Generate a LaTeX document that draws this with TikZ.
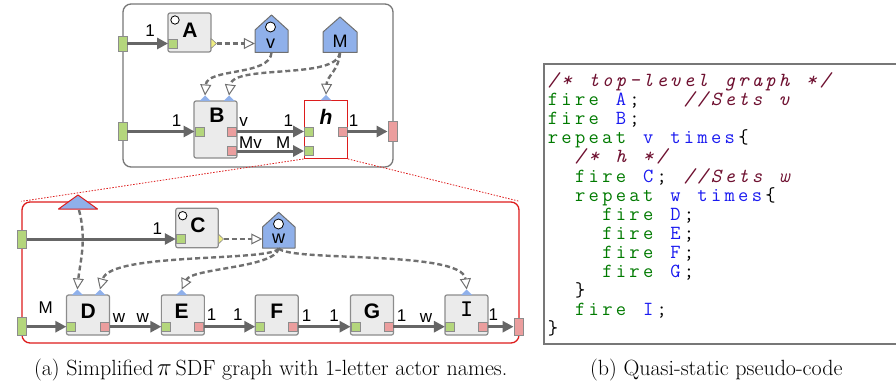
\documentclass[tikz,border=0pt]{standalone}
\usepackage{fontspec}
\newfontfamily\sansf{Liberation Sans}
\usetikzlibrary{arrows.meta,calc}
\definecolor{edgegray}{HTML}{666666}
\definecolor{depgray}{HTML}{707070}
\definecolor{bordergray}{HTML}{8C8C8C}
\definecolor{boxgray}{HTML}{777777}
\definecolor{actfill}{HTML}{EBEBEB}
\definecolor{portgreen}{HTML}{B4D67C}
\definecolor{portpink}{HTML}{EB9E9E}
\definecolor{parblue}{HTML}{8FB0EA}
\definecolor{porty}{HTML}{F0EE80}
\definecolor{hred}{HTML}{DD1C1C}
\definecolor{codegreen}{HTML}{007A00}
\definecolor{codeblue}{HTML}{1A1AF0}
\definecolor{codered}{HTML}{6E1030}
\newlength\colw \setlength\colw{13.6pt}
\ExplSyntaxOn
\NewDocumentCommand\fcols{m}{\tl_map_inline:nn{#1}{\makebox[\colw][c]{##1}}}
\ExplSyntaxOff
\newcommand\ckw[1]{{\color{codegreen}#1}}
\newcommand\cid[1]{{\color{codeblue}#1}}
\newcommand\ccm[1]{{\color{codered}\itshape #1}}
\tikzset{
  actor/.style={draw=bordergray, fill=actfill, line width=1.2pt, rounded corners=2pt, inner sep=0pt, minimum width=43pt, minimum height=40pt},
  hactor/.style={draw=hred, fill=white, line width=1.3pt, inner sep=0pt, minimum width=43pt, minimum height=58pt},
  gport/.style={draw=bordergray, fill=portgreen, line width=0.9pt, inner sep=0pt, minimum width=9pt, minimum height=9pt},
  rport/.style={draw=bordergray, fill=portpink, line width=0.9pt, inner sep=0pt, minimum width=9pt, minimum height=9pt},
  ioport/.style={draw=bordergray, line width=0.9pt, inner sep=0pt, minimum width=9pt, minimum height=18pt},
  flow/.style={draw=edgegray, line width=3pt, -{Triangle[length=11pt,width=11pt]}},
  dep/.style={draw=depgray, line width=2.4pt, dash pattern=on 5pt off 3pt, -{Triangle[length=11pt,width=11pt,fill=white,line width=1pt]}},
  param/.style={draw=depgray, fill=parblue, line width=1pt, line join=round},
  cfgtri/.style={fill=parblue, draw=none},
  yeltri/.style={fill=porty, draw=bordergray, line width=0.6pt},
  ring/.style={draw=black, fill=white, line width=0.8pt},
  elab/.style={font=\sansf\fontsize{17}{17}\selectfont, inner sep=0pt},
  alab/.style={font=\sansf\bfseries\fontsize{21}{21}\selectfont, inner sep=0pt},
  plab/.style={font=\sansf\fontsize{18}{18}\selectfont, inner sep=0pt},
  zoomline/.style={draw=hred, line width=0.8pt, dash pattern=on 1.5pt off 1.5pt},
  codeline/.style={anchor=base west, inner sep=0pt, font=\ttfamily\fontsize{20}{20}\selectfont\addfontfeatures{FakeBold=0.6}},
  codebox/.style={draw=boxgray, line width=1.5pt},
  captext/.style={anchor=base, inner sep=0pt, font=\fontsize{22}{22}\selectfont}
}
\begin{document}
\begin{tikzpicture}[x=1pt,y=-1pt]
\useasboundingbox (0,0) rectangle (896,385);
% ---------------- top-level graph
\node[draw=boxgray, line width=1.3pt, rounded corners=8pt, minimum width=270pt, minimum height=163pt, inner sep=0pt] (top) at (258,85.5) {};
\node[ioport, fill=portgreen, minimum height=15pt] (pA) at (122.5,43.5) {};
\node[ioport, fill=portgreen] (pB) at (122.5,131.5) {};
\node[ioport, fill=portpink, minimum height=20pt] (pO) at (392.5,131) {};
% actor A
\node[actor, minimum height=39pt] (A) at (189.5,32.5) {};
\node[gport] (Ain) at (173,43.5) {};
\draw[ring] (175,20) circle (4.2pt);
\draw[yeltri] (211,38.5) -- (216.5,43.5) -- (211,48.5) -- cycle;
\coordinate (Aout) at (216.5,43.5);
\node[alab] (Alab) at (190,30) {A};
% param v
\node[inner sep=0pt, minimum width=33pt, minimum height=37pt] (v) at (271.5,34) {};
\draw[param] (255,52.5) -- (255,30) -- (271.5,15) -- (288,30) -- (288,52.5) -- cycle;
\draw[ring] (270.5,27) circle (5pt);
\node[plab] (vlab) at (270.5,44) {v};
% param M
\node[inner sep=0pt, minimum width=34pt, minimum height=35pt] (M) at (340,35) {};
\draw[param] (323,52.5) -- (323,32) -- (340,17) -- (357,32) -- (357,52.5) -- cycle;
\node[plab] (Mlab) at (340,41) {M};
% actor B
\node[actor, minimum height=57pt] (B) at (215.5,129.5) {};
\node[gport] (Bin) at (199.5,131.5) {};
\node[rport] (Bo1) at (232,131.5) {};
\node[rport] (Bo2) at (232,151) {};
\draw[cfgtri] (199.5,101) -- (205,95.5) -- (210.5,101) -- cycle;
\draw[cfgtri] (223.5,101) -- (229,95.5) -- (234.5,101) -- cycle;
\coordinate (Bt1) at (205,95.5);
\coordinate (Bt2) at (229,95.5);
\node[alab] (Blab) at (217,115) {B};
% hierarchical actor h
\node[hactor] (h) at (325.8,129.3) {};
\node[gport] (hi1) at (309,131.5) {};
\node[gport] (hi2) at (309,151) {};
\node[rport] (ho) at (342.5,131.5) {};
\draw[cfgtri] (320.5,100.3) -- (326,94.8) -- (331.5,100.3) -- cycle;
\coordinate (ht) at (326,94.8);
\node[alab, font=\sansf\bfseries\itshape\fontsize{21}{21}\selectfont] (hlab) at (326,117) {h};
% top flows
\draw[flow] (pA.east) -- (Ain.west);
\draw[flow] (pB.east) -- (Bin.west);
\draw[flow] (Bo1.east) -- (hi1.west);
\draw[flow] (Bo2.east) -- (hi2.west);
\draw[flow] (ho.east) -- (pO.west |- ho);
\node[elab] (t1) at (150,31) {1};
\node[elab] (t2) at (176.7,121) {1};
\node[elab] (t3) at (243.5,121.7) {v};
\node[elab] (t4) at (288.3,121) {1};
\node[elab] (t5) at (250.5,142.5) {Mv};
\node[elab] (t6) at (283.3,142.5) {M};
\node[elab] (t7) at (353.5,121) {1};
% top dependencies
\draw[dep] (Aout) -- (Aout -| v.west);
\draw[dep] (v.south) .. controls (270,76) and (207,68) .. (Bt1);
\draw[dep] (M.south) .. controls (337,80) and (233,64) .. (Bt2);
\draw[dep] (M.south) .. controls (339,70) and (327,76) .. (ht);
% ---------------- zoom lines and subgraph
\node[draw=hred, line width=1.3pt, rounded corners=8pt, minimum width=497pt, minimum height=141pt, inner sep=0pt] (hbox) at (270.5,272.5) {};
\draw[zoomline] (h.south west) -- (hbox.north west);
\draw[zoomline] (h.south east) -- (hbox.north east);
\draw[param, draw=hred, line width=1pt] (58.5,209) -- (78,195) -- (97.5,209) -- cycle;
\coordinate (TMb) at (79,210);
\node[ioport, fill=portgreen] (pC) at (22,239) {};
\node[ioport, fill=portgreen] (pD) at (22,326.7) {};
\node[ioport, fill=portpink, minimum height=17pt] (pI) at (518.5,326.5) {};
% actor C
\node[actor, minimum width=42.5pt, minimum height=39.5pt] (C) at (197,228) {};
\node[gport] (Cin) at (180.7,239) {};
\draw[ring] (182.7,215.7) circle (4.2pt);
\draw[yeltri] (218.3,234) -- (223.5,239) -- (218.3,244) -- cycle;
\coordinate (Cout) at (223.5,239);
\node[alab] (Clab) at (198,225) {C};
% param w
\node[inner sep=0pt, minimum width=32.5pt, minimum height=36pt] (w) at (278.7,230.2) {};
\draw[param] (262.5,248.2) -- (262.5,227) -- (278.7,212.3) -- (295,227) -- (295,248.2) -- cycle;
\draw[ring] (278.5,224) circle (5pt);
\node[plab] (wlab) at (278.5,239) {w};
% bottom row actors
\node[actor] (D) at (88,315) {};
\node[gport] (Din) at (71.3,326.7) {};
\node[rport] (Dout) at (104.7,326.7) {};
\draw[cfgtri] (71.8,295) -- (77.3,289.5) -- (82.8,295) -- cycle;
\draw[cfgtri] (94.5,295) -- (100,289.5) -- (105.5,295) -- cycle;
\coordinate (Dt1) at (77.3,289.5);
\coordinate (Dt2) at (100,289.5);
\node[alab] (Dlab) at (88.3,311.5) {D};
\node[actor] (E) at (182.85,315) {};
\node[gport] (Ein) at (166.3,326.7) {};
\node[rport] (Eout) at (199.4,326.7) {};
\draw[cfgtri] (176.2,295) -- (181.7,289.5) -- (187.2,295) -- cycle;
\coordinate (Et) at (181.7,289.5);
\node[alab] (Elab) at (181.7,311.5) {E};
\node[actor] (F) at (276.7,315) {};
\node[gport] (Fin) at (260.2,326.7) {};
\node[rport] (Fout) at (293.2,326.7) {};
\node[alab] (Flab) at (276.7,311.5) {F};
\node[actor] (G) at (372,315) {};
\node[gport] (Gin) at (355.5,326.7) {};
\node[rport] (Gout) at (388.5,326.7) {};
\node[alab] (Glab) at (372,311.5) {G};
\node[actor] (I) at (466.4,315) {};
\node[gport] (Iin) at (449.9,326.7) {};
\node[rport] (Iout) at (482.9,326.7) {};
\draw[cfgtri] (461.2,295) -- (466.7,289.5) -- (472.2,295) -- cycle;
\coordinate (It) at (466.7,289.5);
\node[alab, font=\ttfamily\bfseries\fontsize{24}{24}\selectfont] (Ilab) at (466.7,309) {I};
% subgraph flows
\draw[flow] (pC.east) -- (Cin.west);
\draw[flow] (pD.east) -- (Din.west);
\draw[flow] (Dout.east) -- (Ein.west);
\draw[flow] (Eout.east) -- (Fin.west);
\draw[flow] (Fout.east) -- (Gin.west);
\draw[flow] (Gout.east) -- (Iin.west);
\draw[flow] (Iout.east) -- (pI.west |- Iout);
\node[elab] (s1) at (157.3,228.5) {1};
\node[elab] (s2) at (45.8,308) {M};
\node[elab] (s3) at (119,317.8) {w};
\node[elab] (s4) at (142.8,317.8) {w};
\node[elab] (s5) at (211.7,315) {1};
\node[elab] (s6) at (237.8,315) {1};
\node[elab] (s7) at (306.7,315.3) {1};
\node[elab] (s8) at (334.2,315.3) {1};
\node[elab] (s9) at (401.7,315.3) {1};
\node[elab] (s10) at (426,317.8) {w};
\node[elab] (s11) at (493.3,315) {1};
% subgraph dependencies
\draw[dep] (Cout) -- (Cout -| w.west);
\draw[dep] (TMb) .. controls (87,240) and (80,262) .. (Dt1);
\draw[dep] (w.south) .. controls (272,262) and (110,252) .. (Dt2);
\draw[dep] (w.south) .. controls (275,268) and (192,268) .. (Et);
\draw[dep] (w.south) .. controls (290,262) and (462,250) .. (It);
% ---------------- pseudo-code
\coordinate (cbTL) at (544,64);
\coordinate (cbTR) at (896,64);
\coordinate (cbBL) at (544,344);
\coordinate (cbBR) at (896,344);
\draw[codebox] (cbTR) -- (cbTL) -- (cbBL) -- (cbBR);
\node[codeline] (c1) at (546,86.5) {\ccm{\fcols{/*~top-level~graph~*/}}};
\node[codeline] (c2) at (546,105.6) {\ckw{\fcols{fire~}}\cid{\fcols{A}}\fcols{;~~~}\ccm{\fcols{//Sets~v}}};
\node[codeline] (c3) at (546,124.7) {\ckw{\fcols{fire~}}\cid{\fcols{B}}\fcols{;}};
\node[codeline] (c4) at (546,143.8) {\ckw{\fcols{repeat~}}\cid{\fcols{v~times}}\fcols{\{}};
\node[codeline] (c5) at (546,162.9) {\fcols{~~}\ccm{\fcols{/*~h~*/}}};
\node[codeline] (c6) at (546,182.0) {\fcols{~~}\ckw{\fcols{fire~}}\cid{\fcols{C}}\fcols{;~}\ccm{\fcols{//Sets~w}}};
\node[codeline] (c7) at (546,201.1) {\fcols{~~}\ckw{\fcols{repeat~}}\cid{\fcols{w~times}}\fcols{\{}};
\node[codeline] (c8) at (546,220.2) {\fcols{~~~~}\ckw{\fcols{fire~}}\cid{\fcols{D}}\fcols{;}};
\node[codeline] (c9) at (546,239.3) {\fcols{~~~~}\ckw{\fcols{fire~}}\cid{\fcols{E}}\fcols{;}};
\node[codeline] (c10) at (546,258.4) {\fcols{~~~~}\ckw{\fcols{fire~}}\cid{\fcols{F}}\fcols{;}};
\node[codeline] (c11) at (546,277.5) {\fcols{~~~~}\ckw{\fcols{fire~}}\cid{\fcols{G}}\fcols{;}};
\node[codeline] (c12) at (546,296.6) {\fcols{~~\}}};
\node[codeline] (c13) at (546,315.7) {\fcols{~~}\ckw{\fcols{fire~}}\cid{\fcols{I}}\fcols{;}};
\node[codeline] (c14) at (546,334.8) {\fcols{\}}};
% ---------------- captions
\node[captext] (capA) at (270.7,375.5) {(a) Simplified\,{\fontsize{36}{36}\selectfont$\pi$}\,SDF graph with 1-letter actor names.};
\node[captext] (capB) at (716.3,375.5) {(b) Quasi-static pseudo-code};
\end{tikzpicture}
\end{document}
